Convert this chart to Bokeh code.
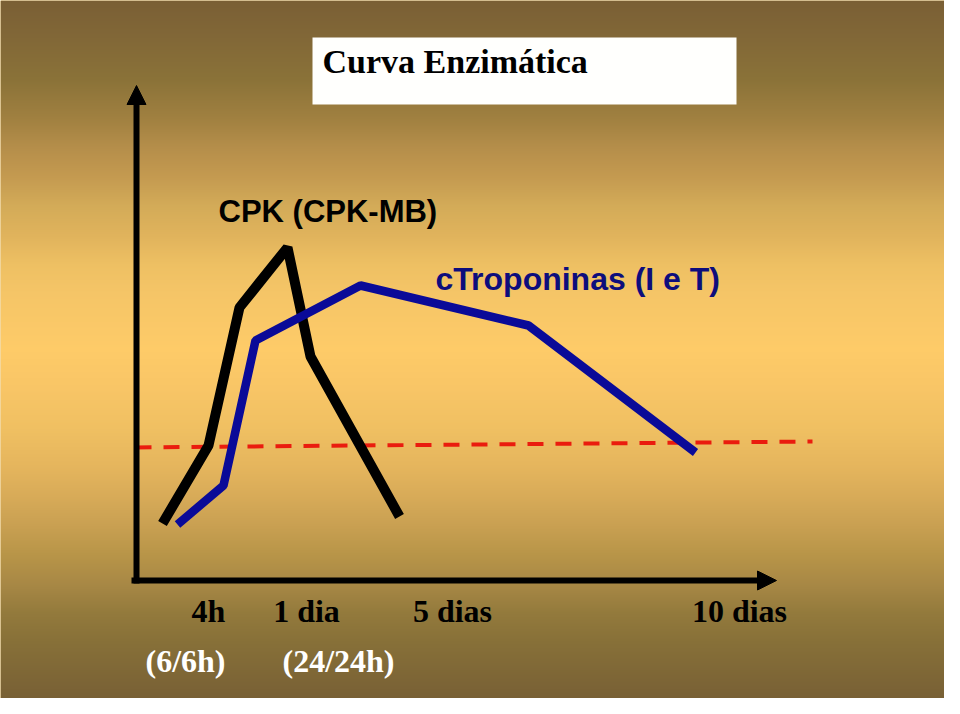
import numpy as np
from bokeh.plotting import figure
from bokeh.models import Range1d, Arrow, NormalHead, BoxAnnotation, Label, ColumnDataSource
from bokeh.core.properties import value
from bokeh.embed import file_html
from bokeh.resources import INLINE

# ---- data (schematic units: x right of the vertical axis, y above the horizontal axis)
cpk_x = [27, 73, 104, 152, 175, 264]
cpk_y = [57, 135, 273, 333, 224, 64]
trop_x = [42, 88, 120, 225, 393, 560]
trop_y = [56, 95, 240, 295, 255, 128]
limit_x = [0, 677]
limit_y = [133, 139]
tick_pos = [73, 171, 317, 604]
tick_labels = ["4h", "1 dia", "5 dias", "10 dias"]
sub_pos = [50, 203]
sub_labels = ["(6/6h)", "(24/24h)"]

W, H = 944, 698
X0, X1 = -135, 809
Y0, Y1 = -118, 580

p = figure(width=W, height=H, output_backend="svg", toolbar_location=None,
           x_range=Range1d(X0, X1), y_range=Range1d(Y0, Y1),
           x_axis_type=None, y_axis_type=None, min_border=0)
p.grid.visible = False
p.outline_line_color = None
p.background_fill_color = "#e8bb5e"
p.border_fill_color = "#e8bb5e"

# ---- background vertical gradient (styling)
stops_y = [0, 40, 80, 120, 150, 180, 210, 240, 270, 300, 357, 397, 437, 477, 507, 537, 567, 597, 627, 657, 714]
stops_c = [(122, 95, 53), (130, 104, 55), (138, 114, 56), (160, 128, 64), (181, 142, 74),
           (196, 154, 80), (211, 171, 88), (224, 179, 92), (238, 192, 99), (245, 197, 103),
           (254, 203, 104), (248, 197, 102), (240, 192, 98), (229, 181, 93), (216, 171, 88),
           (201, 160, 82), (184, 149, 72), (168, 136, 69), (147, 122, 60), (135, 112, 56),
           (120, 96, 53)]
rows = np.arange(H)
img_y = (H - rows - 0.5) * 714.0 / H
img = np.empty((H, 2), dtype=np.uint32)
view = img.view(dtype=np.uint8).reshape((H, 2, 4))
for ch in range(3):
    col = np.interp(img_y, stops_y, [c[ch] for c in stops_c])
    view[:, :, ch] = np.round(col)[:, None].astype(np.uint8)
view[:, :, 3] = 255
p.image_rgba(image=[img], x=X0, y=Y0, dw=W, dh=H)

# ---- title box
p.add_layout(BoxAnnotation(left=177, right=601, bottom=476, top=543,
                           fill_color="#fffffd", fill_alpha=1.0, line_color=None))
p.add_layout(Label(x=187, y=519, text="Curva Enzimática", text_font="Liberation Serif",
                   text_font_style="bold", text_font_size="34px", text_color="black",
                   text_baseline="alphabetic", text_align="left"))

# ---- threshold line
p.line(limit_x, limit_y, line_color="#ea1c0e", line_width=4, line_dash="16 12")

# ---- curves
p.line(cpk_x, cpk_y, line_color="black", line_width=10, line_join="bevel", line_cap="butt")
p.line(trop_x, trop_y, line_color="#0a0a98", line_width=8.5, line_join="bevel", line_cap="butt")

# ---- axes as arrows
p.add_layout(Arrow(end=NormalHead(size=19, fill_color="black", line_color="black", line_width=1),
                   x_start=1, y_start=-3, x_end=1, y_end=495, line_width=6, line_color="black"))
p.add_layout(Arrow(end=NormalHead(size=19, fill_color="black", line_color="black", line_width=1),
                   x_start=-4, y_start=0, x_end=641, y_end=0, line_width=6, line_color="black"))

# ---- series labels
p.add_layout(Label(x=83, y=369, text="CPK (CPK-MB)", text_font="Liberation Sans",
                   text_font_style="bold", text_font_size="31px", text_color="black",
                   text_baseline="alphabetic"))
p.add_layout(Label(x=300, y=302, text="cTroponinas (I e T)", text_font="Liberation Sans",
                   text_font_style="bold", text_font_size="32px", text_color="#0d0d7c",
                   text_baseline="alphabetic"))

# ---- tick labels
ticks = ColumnDataSource(dict(x=tick_pos, y=[-30] * len(tick_pos), t=tick_labels))
p.text(x="x", y="y", text="t", source=ticks, text_font=value("Liberation Serif"),
       text_font_style="bold", text_font_size="32px", text_color="black",
       text_align="center", text_baseline="alphabetic")
subs = ColumnDataSource(dict(x=sub_pos, y=[-80] * len(sub_pos), t=sub_labels))
p.text(x="x", y="y", text="t", source=subs, text_font=value("Liberation Serif"),
       text_font_style="bold", text_font_size="32px", text_color="white",
       text_align="center", text_baseline="alphabetic")

open("out.html", "w").write(file_html(p, INLINE))
